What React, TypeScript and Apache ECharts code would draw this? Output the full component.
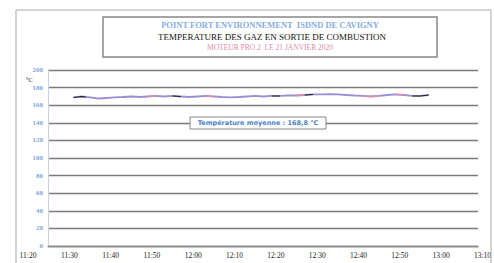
import React, { useEffect, useRef } from "react";
import * as echarts from "echarts";

const titleLines = [
  "POINT FORT ENVIRONNEMENT  ISDND DE CAVIGNY",
  "TEMPERATURE DES GAZ EN SORTIE DE COMBUSTION",
  "MOTEUR PRO 2  LE 21 JANVIER 2020",
];
const xLabels = ["11:20", "11:30", "11:40", "11:50", "12:00", "12:10", "12:20", "12:30", "12:40", "12:50", "13:00", "13:10"];
const yTicks = [0, 20, 40, 60, 80, 100, 120, 140, 160, 180, 200];
const times = [
  "11:31", "11:33", "11:34", "11:35", "11:37", "11:39", "11:41", "11:43", "11:45", "11:47",
  "11:49", "11:51", "11:53", "11:55", "11:57", "11:59", "12:01", "12:03", "12:05", "12:07",
  "12:09", "12:11", "12:13", "12:15", "12:17", "12:19", "12:21", "12:23", "12:25", "12:27",
  "12:29", "12:31", "12:33", "12:35", "12:37", "12:39", "12:41", "12:43", "12:45", "12:47",
  "12:49", "12:51", "12:53", "12:55", "12:57",
];
const temps = [
  168.8, 169.9, 169.3, 168.8, 167.6, 168.2, 168.8, 169.3, 169.9, 169.3,
  169.9, 170.5, 169.9, 170.5, 169.9, 169.3, 169.9, 170.5, 169.9, 169.3,
  168.8, 169.3, 169.9, 170.5, 169.9, 170.5, 170.5, 171.0, 171.0, 171.6,
  172.2, 172.2, 172.7, 172.2, 171.6, 171.0, 170.5, 169.9, 170.5, 171.6,
  172.2, 171.6, 170.5, 170.5, 171.6,
];
const blackRanges = [["11:31", "11:34"], ["11:55", "11:57"], ["12:19", "12:21"], ["12:27", "12:29"], ["12:53", "12:57"]];
const pinkRanges = [["11:49", "11:51"], ["12:03", "12:05"], ["12:25", "12:27"], ["12:41", "12:45"], ["12:49", "12:51"]];
const meanLabel = "Température moyenne : 168,8 °C";
const startTime = "11:20";

const toMin = (s: string) => {
  const [h, m] = s.split(":").map(Number);
  return h * 60 + m;
};
const rel = (s: string) => toMin(s) - toMin(startTime);

const masked = (ranges: string[][]) =>
  times.map((t, i) => {
    const m = toMin(t);
    const inside = ranges.some(([a, b]) => m >= toMin(a) && m <= toMin(b));
    return [rel(t), inside ? temps[i] : null];
  });

export default function App() {
  const ref = useRef<HTMLDivElement>(null);
  useEffect(() => {
    document.body.style.margin = "0";
    const chart = echarts.init(ref.current!, null, { renderer: "svg" });
    const serif = "Liberation Serif";
    chart.setOption({
      animation: false,
      backgroundColor: "#ffffff",
      grid: [
        { left: 48, right: 16, top: 70, bottom: 17 },
        { left: 28, right: 11, top: 70, bottom: 17 },
      ],
      xAxis: [
        {
          gridIndex: 0, type: "value", min: 0, max: 110, interval: 10,
          axisLine: { show: true, lineStyle: { color: "#888", width: 1.3 } },
          axisTick: { show: false }, axisLabel: { show: false }, splitLine: { show: false },
        },
        {
          gridIndex: 1, type: "value", min: 0, max: 110, interval: 10,
          axisLine: { show: false }, axisTick: { show: false }, splitLine: { show: false },
          axisLabel: {
            show: true, margin: 5, fontSize: 7.5, color: "#222", fontFamily: serif,
            formatter: (v: number) => xLabels[Math.round(v / 10)] ?? "",
          },
        },
      ],
      yAxis: [
        {
          gridIndex: 0, type: "value", min: yTicks[0], max: yTicks[yTicks.length - 1], interval: 20,
          axisLine: { show: true, lineStyle: { color: "#c8d4e6", width: 1 } },
          axisTick: { show: false },
          axisLabel: { margin: 5, fontSize: 7, color: "#7ea6dc", fontFamily: serif, fontWeight: "bold" },
          splitLine: { show: true, lineStyle: { color: "#7a7a7a", width: 1.4 } },
        },
        {
          gridIndex: 1, type: "value", min: 0, max: 200, show: false,
          splitLine: { show: false },
        },
      ],
      series: [
        {
          type: "line", xAxisIndex: 1, yAxisIndex: 1, symbol: "none",
          data: times.map((t, i) => [rel(t), temps[i]]),
          lineStyle: { color: "#9a8fd4", width: 1.8 },
        },
        {
          type: "line", xAxisIndex: 1, yAxisIndex: 1, symbol: "none", connectNulls: false,
          data: masked(pinkRanges),
          lineStyle: { color: "#e48aa8", width: 1.3 },
        },
        {
          type: "line", xAxisIndex: 1, yAxisIndex: 1, symbol: "none", connectNulls: false,
          data: masked(blackRanges),
          lineStyle: { color: "#222", width: 1.1 },
        },
      ],
      graphic: [
        { type: "rect", z: 100, shape: { x: 16, y: 10, width: 475, height: 260 }, style: { fill: "none", stroke: "#aaa", lineWidth: 1 }, silent: true },
        { type: "rect", z: 100, shape: { x: 103, y: 17, width: 334, height: 40 }, style: { fill: "#fff", stroke: "#888", lineWidth: 1.5 }, silent: true },
        { type: "text", z: 101, x: 270, y: 25, style: { text: titleLines[0], fill: "#86aee0", font: `bold 8.5px '${serif}'`, align: "center", verticalAlign: "middle" } },
        { type: "text", z: 101, x: 272, y: 37, style: { text: titleLines[1], fill: "#111", font: `9px '${serif}'`, align: "center", verticalAlign: "middle" } },
        { type: "text", z: 101, x: 270, y: 47, style: { text: titleLines[2], fill: "#e48aa8", font: `7.5px '${serif}'`, align: "center", verticalAlign: "middle" } },
        { type: "text", z: 101, x: 26, y: 79, style: { text: "°C", fill: "#222", font: `6.5px '${serif}'`, verticalAlign: "middle" } },
        { type: "rect", z: 100, shape: { x: 190, y: 117, width: 136, height: 12 }, style: { fill: "#fff", stroke: "#888", lineWidth: 1 } },
        { type: "text", z: 101, x: 258, y: 123, style: { text: meanLabel, fill: "#4a7fc4", font: `bold 6.5px 'DejaVu Sans'`, align: "center", verticalAlign: "middle" } },
      ],
    });
    return () => chart.dispose();
  }, []);
  return <div ref={ref} style={{ width: 494, height: 263 }} />;
}
